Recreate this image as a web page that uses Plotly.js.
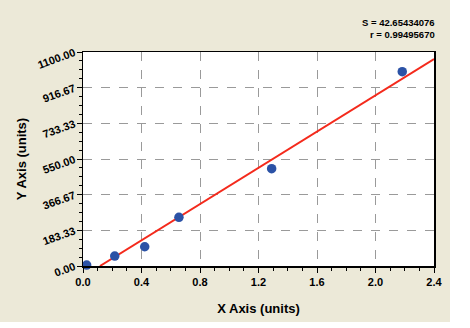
<!DOCTYPE html>
<html>
<head>
<meta charset="utf-8">
<script src="https://cdn.plot.ly/plotly-3.0.1.min.js"></script>
<style>html,body{margin:0;padding:0;background:#fff;}#chart{width:470px;height:328px;}</style>
</head>
<body>
<div id="chart"></div>
<script>
// Data
const pointX = [0.025, 0.217, 0.422, 0.656, 1.29, 2.183];
const pointY = [5, 51, 99, 250, 500, 999];
const fitX = [0.116, 2.4];
const fitY = [0, 1064];
const yTickVals = [0, 183.33, 366.67, 550, 733.33, 916.67, 1100];
const yTickText = ["0.00", "183.33", "366.67", "550.00", "733.33", "916.67", "1100.00"];
const xTickVals = [0, 0.4, 0.8, 1.2, 1.6, 2.0, 2.4];
const xTickText = ["0.0", "0.4", "0.8", "1.2", "1.6", "2.0", "2.4"];
const statLines = ["S = 42.65434076", "r = 0.99495670"];

const font = {family: "Liberation Sans, Arial, sans-serif", color: "#000"};

const traces = [
  {x: fitX, y: fitY, mode: "lines", line: {color: "#f42a1c", width: 2}, hoverinfo: "skip", cliponaxis: true},
  {x: pointX, y: pointY, mode: "markers", marker: {color: "#2b52a6", size: 9.5}, cliponaxis: false}
];

const axisCommon = {
  showline: true, linecolor: "#000", linewidth: 1.5, mirror: true,
  ticks: "outside", ticklen: 5, tickwidth: 1, tickcolor: "#000",
  showgrid: true, gridcolor: "#9a9a9a", griddash: "dash", gridwidth: 1,
  zeroline: false, tickmode: "array"
};

const layout = {
  width: 470, height: 328,
  margin: {l: 83, r: 36, t: 52, b: 62},
  paper_bgcolor: "#ece9d8", plot_bgcolor: "#ffffff",
  showlegend: false,
  font: font,
  xaxis: Object.assign({}, axisCommon, {
    range: [0, 2.4], tickvals: xTickVals, ticktext: xTickText,
    tickfont: {family: font.family, size: 11, color: "#000", weight: "bold"},
    minor: {dtick: 0.1, tick0: 0, ticks: "outside", ticklen: 3, tickcolor: "#000", showgrid: false},
    title: {text: "<b>X Axis (units)</b>", font: {family: font.family, size: 13, color: "#000"}, standoff: 17}
  }),
  yaxis: Object.assign({}, axisCommon, {
    range: [0, 1100], tickvals: yTickVals, ticktext: yTickText, tickangle: -20,
    tickfont: {family: font.family, size: 11, color: "#000", weight: "bold"},
    minor: {dtick: 1100 / 24, tick0: 0, ticks: "outside", ticklen: 3, tickcolor: "#000", showgrid: false},
    title: {text: "<b>Y Axis (units)</b>", font: {family: font.family, size: 13, color: "#000"}, standoff: 6}
  }),
  annotations: [
    {xref: "paper", yref: "paper", x: (437 - 83) / 351, y: (266 - 22.5) / 214, xanchor: "right", yanchor: "middle",
     text: "<b>" + statLines[0] + "</b>", showarrow: false, font: {family: font.family, size: 9.5, color: "#000"}},
    {xref: "paper", yref: "paper", x: (437 - 83) / 351, y: (266 - 34.5) / 214, xanchor: "right", yanchor: "middle",
     text: "<b>" + statLines[1] + "</b>", showarrow: false, font: {family: font.family, size: 9.5, color: "#000"}}
  ],
  shapes: [
    {type: "rect", xref: "paper", yref: "paper", x0: (450 - 83) / 351, x1: 1.5, y0: -0.5, y1: 1.5,
     fillcolor: "#ffffff", line: {width: 0}, layer: "below"},
    {type: "rect", xref: "paper", yref: "paper", x0: -0.5, x1: 1.5, y0: -0.5, y1: (266 - 322) / 214,
     fillcolor: "#ffffff", line: {width: 0}, layer: "below"}
  ]
};

Plotly.newPlot("chart", traces, layout, {staticPlot: true, displayModeBar: false});
</script>
</body>
</html>
